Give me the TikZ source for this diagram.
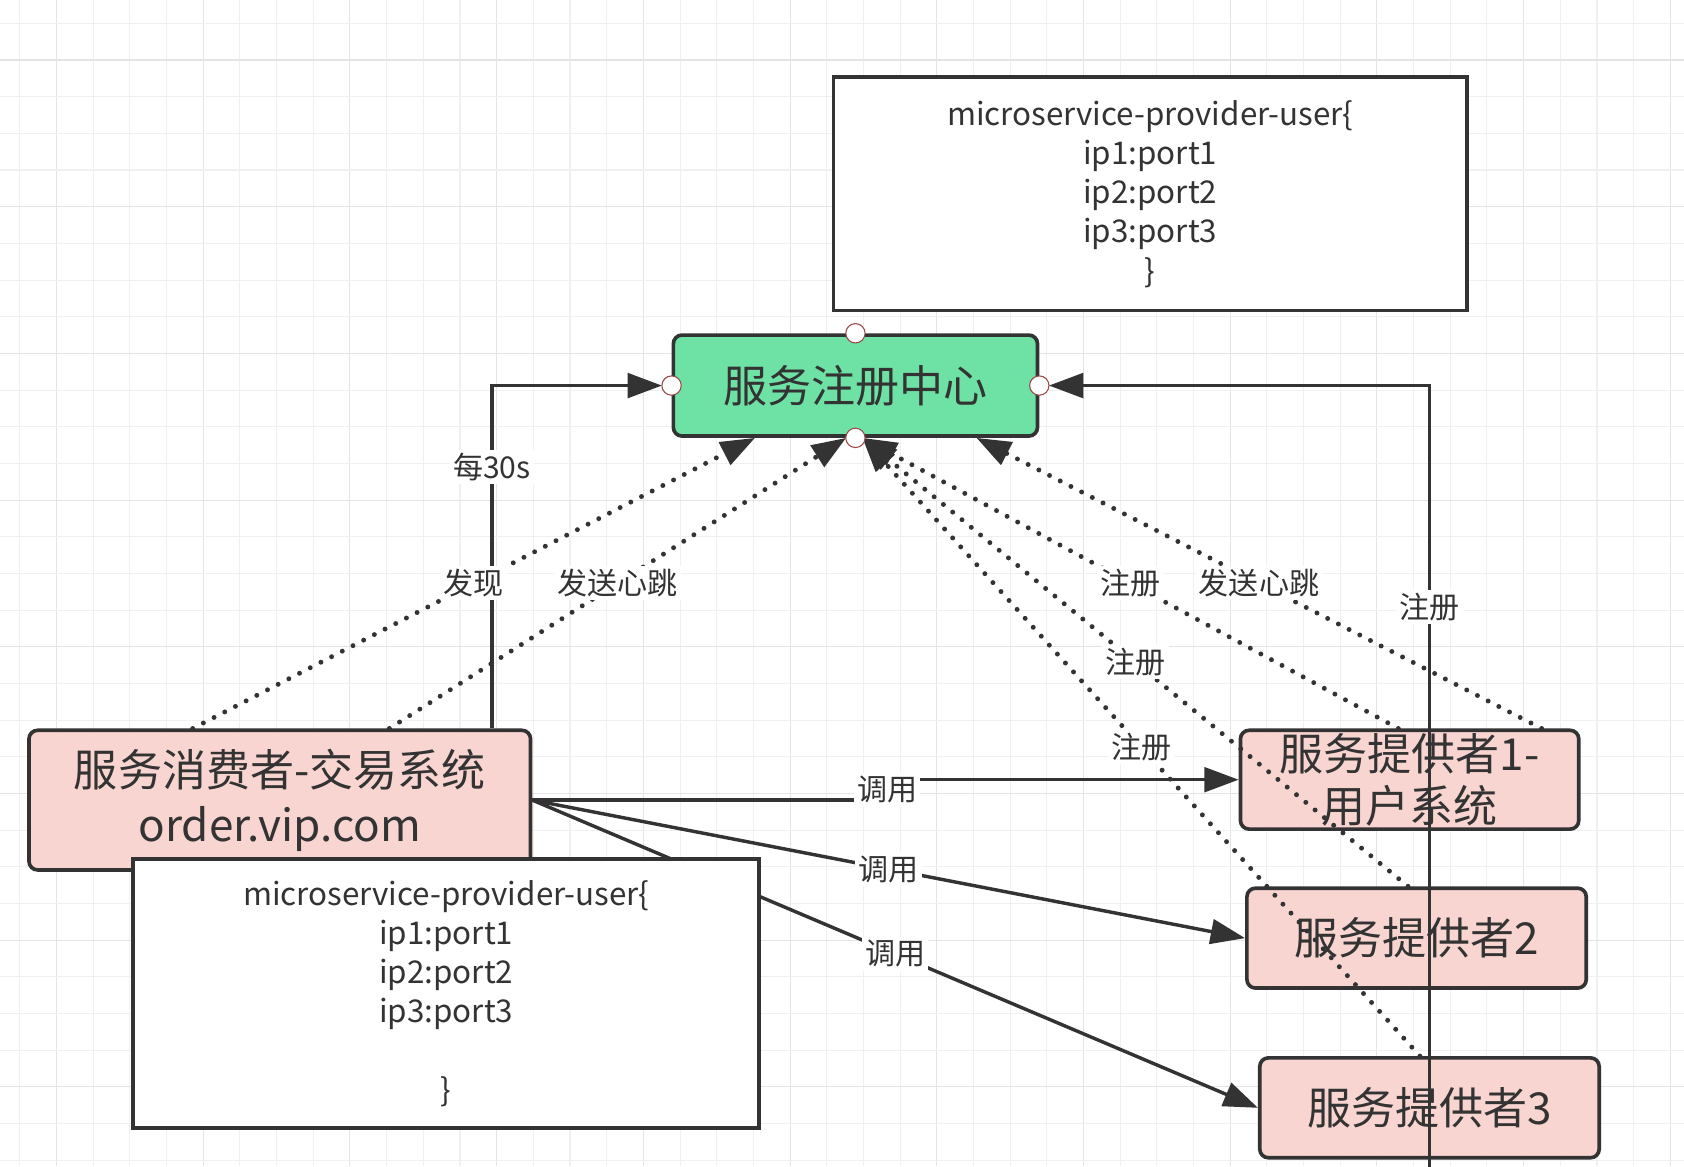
\documentclass[tikz,border=0pt]{standalone}
\usepackage{fontspec}
\setmainfont{Noto Sans CJK SC}
\usetikzlibrary{arrows.meta,calc}
\definecolor{ink}{HTML}{333333}
\definecolor{mint}{HTML}{6EE2A5}
\definecolor{blush}{HTML}{F8D5D0}
\definecolor{gridminor}{HTML}{F0F0F0}
\definecolor{gridmajor}{HTML}{E4E4E4}
\definecolor{handle}{HTML}{9A4848}

\begin{document}
\begin{tikzpicture}[x=0.5pt,y=-0.5pt,
  box/.style={draw=ink, line width=1.7pt, text=ink, align=center, inner sep=0pt},
  rbox/.style={box, rounded corners=4pt},
  bigtext/.style={font=\fontsize{20.5pt}{25.5pt}\selectfont},
  smalltext/.style={font=\fontsize{14.6pt}{18.25pt}\selectfont},
  lbl/.style={fill=white, text=ink, inner sep=1.5pt, font=\fontsize{14pt}{16pt}\selectfont},
  link/.style={draw=ink, line width=1.6pt, -{Triangle[length=16pt,width=11.5pt]}},
  dotlink/.style={draw=ink, line width=2.3pt, line cap=round, dash pattern=on 0pt off 5.6pt,
                  -{Triangle[length=16pt,width=11.5pt]}},
  handlept/.style={circle, draw=handle, fill=white, line width=0.5pt, minimum size=9pt, inner sep=0pt},
]
\useasboundingbox (0,0) rectangle (1568,1086);
\clip (0,0) rectangle (1568,1086);
\fill[white] (0,0) rectangle (1568,1086);

% background grid
\foreach \i in {0,...,45}{
  \pgfmathtruncatemacro\m{mod(\i,4)}
  \ifnum\m=1 \def\gc{gridmajor}\else\def\gc{gridminor}\fi
  \draw[color=\gc, line width=0.5pt] ({18.5+34.15*\i},0) -- ++(0,1086);
}
\foreach \i in {0,...,31}{
  \pgfmathtruncatemacro\m{mod(\i,4)}
  \ifnum\m=1 \def\gc{gridmajor}\else\def\gc{gridminor}\fi
  \draw[color=\gc, line width=0.5pt] (0,{21.7+34.15*\i}) -- ++(1568,0);
}

% nodes
\node[box, fill=white, smalltext, minimum width=295pt, minimum height=108.5pt] (table) at (1071,180.5)
  {microservice-provider-user\{\\ip1:port1\\ip2:port2\\ip3:port3\\\}};
\node[rbox, fill=mint, bigtext, minimum width=169.5pt, minimum height=47pt] (reg) at (796.5,359) {服务注册中心};
\node[rbox, fill=blush, bigtext, minimum width=233.5pt, minimum height=65pt] (cons) at (260.5,745)
  {服务消费者-交易系统\\order.vip.com};
\node[rbox, fill=blush, font=\fontsize{20.5pt}{24.5pt}\selectfont, minimum width=157.5pt, minimum height=46pt] (p1) at (1312.5,726)
  {服务提供者1-\\用户系统};
\node[rbox, fill=blush, bigtext, minimum width=158pt, minimum height=46.5pt] (p2) at (1319,873.5) {服务提供者2};
\node[rbox, fill=blush, bigtext, minimum width=158pt, minimum height=46.5pt] (p3) at (1331,1031.5) {服务提供者3};

% helper coordinates for orthogonal connectors
\coordinate (k30) at (458,0);
\coordinate (rsrc) at (1331,1137);
\coordinate (step) at (826,0);

% periodic fetch and registration (solid elbows)
\draw[link, shorten >=4.5pt] (k30 |- cons.north) -- node[lbl, pos=0.7625]{每30s} (k30 |- reg.west) -- (reg.west);
\draw[link, shorten >=4.5pt] (rsrc) -- node[lbl, pos=0.735]{注册} (rsrc |- reg.east) -- (reg.east);

% discovery, heartbeat and registration (dotted)
\draw[dotlink] ($(cons.north west)!0.3276!(cons.north east)$) -- node[lbl]{发现}
  ($(reg.south west)!0.227!(reg.south east)$);
\draw[dotlink] ($(cons.north west)!0.717!(cons.north east)$) -- node[lbl]{发送心跳}
  ($(reg.south west)!0.475!(reg.south east)$);
\draw[dotlink] ($(p1.north west)!0.467!(p1.north east)$) -- node[lbl]{注册}
  ($(reg.south west)!0.519!(reg.south east)$);
\draw[dotlink] ($(p1.north west)!0.886!(p1.north east)$) -- node[lbl]{发送心跳}
  ($(reg.south west)!0.829!(reg.south east)$);
\draw[dotlink] ($(p2.north west)!0.475!(p2.north east)$) -- node[lbl]{注册}
  ($(reg.south west)!0.519!(reg.south east)$);
\draw[dotlink] ($(p3.north west)!0.472!(p3.north east)$) -- node[lbl]{注册}
  ($(reg.south west)!0.519!(reg.south east)$);

% remote calls
\draw[link] (cons.east) -- (cons.east -| step) -- node[lbl]{调用} (step |- p1.west) -- (p1.west);
\draw[link] (cons.east) -- node[lbl]{调用} (p2.west);
\draw[link] (cons.east) -- node[lbl]{调用} (p3.west);

% local cache of the registry
\node[box, fill=white, smalltext, minimum width=291.5pt, minimum height=125pt] (cache) at (415.5,925)
  {microservice-provider-user\{\\ip1:port1\\ip2:port2\\ip3:port3\\\mbox{}\\\}};

% connection handles on the registry
\node[handlept] (ht) at (reg.north) {};
\node[handlept] (hb) at (reg.south) {};
\node[handlept] (hl) at (reg.west) {};
\node[handlept] (hr) at (reg.east) {};
\end{tikzpicture}
\end{document}
